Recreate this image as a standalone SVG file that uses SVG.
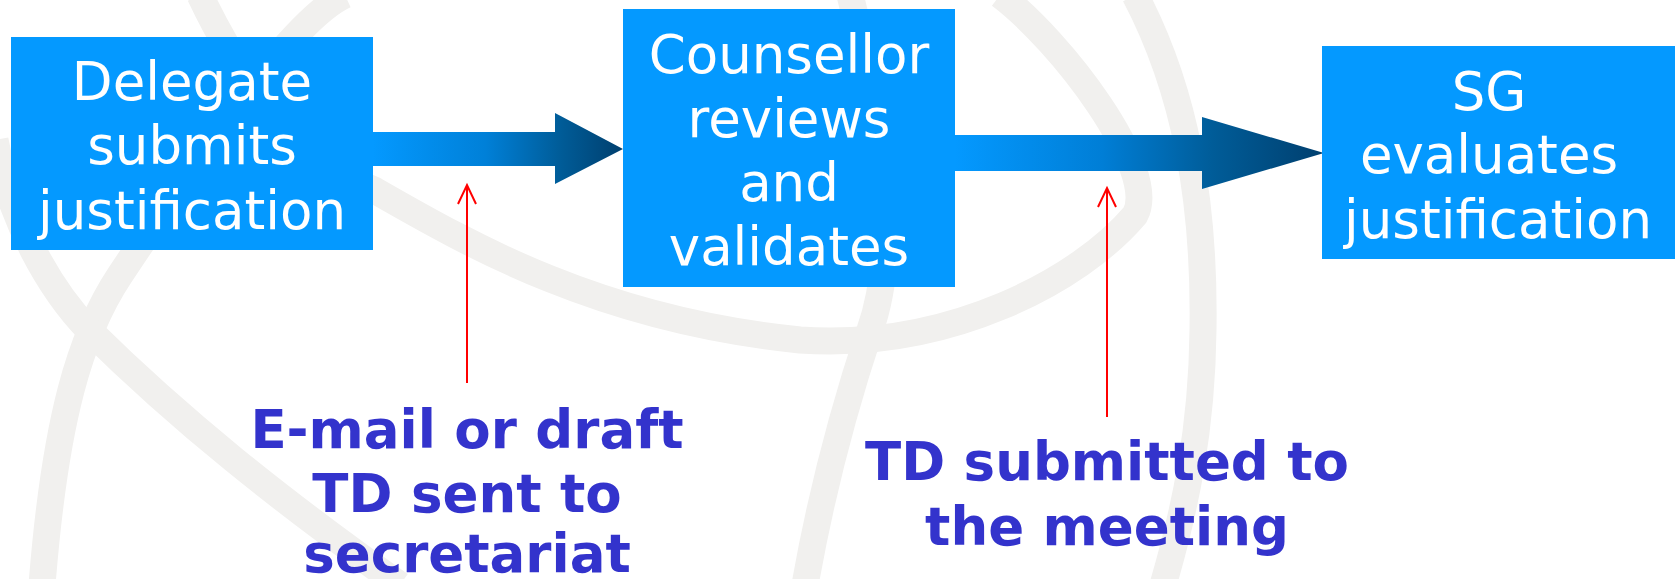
<svg xmlns="http://www.w3.org/2000/svg" width="1678" height="579" viewBox="0 0 1678 579">
<style>
  .bg { fill: none; stroke: #F1F0EE; stroke-width: 27; stroke-linecap: butt; }
  .box { fill: #0499FF; }
  .btxt { font-family: "DejaVu Sans", Verdana, sans-serif; font-size: 53px; fill: #FFFFFF; text-anchor: middle; }
  .ltxt { font-family: "DejaVu Sans", Verdana, sans-serif; font-weight: bold; font-size: 53px; fill: #3333CC; text-anchor: middle; }
  .red { stroke: #FF0000; stroke-width: 2; fill: none; }
</style>
<defs>
  <linearGradient id="g1" gradientUnits="userSpaceOnUse" x1="373" y1="0" x2="623" y2="0">
    <stop offset="0" stop-color="#0499FF"/>
    <stop offset="0.45" stop-color="#0080D8"/>
    <stop offset="0.75" stop-color="#005C98"/>
    <stop offset="1" stop-color="#003F6E"/>
  </linearGradient>
  <linearGradient id="g2" gradientUnits="userSpaceOnUse" x1="955" y1="0" x2="1324" y2="0">
    <stop offset="0" stop-color="#0499FF"/>
    <stop offset="0.4" stop-color="#007ED6"/>
    <stop offset="0.7" stop-color="#005C98"/>
    <stop offset="1" stop-color="#003F6E"/>
  </linearGradient>
  <marker id="open" markerUnits="userSpaceOnUse" markerWidth="24" markerHeight="24" viewBox="-20 -12 24 24" refX="0" refY="0" orient="auto">
    <path d="M-19,-9 L0,0 L-19,9" fill="none" stroke="#FF0000" stroke-width="2"/>
  </marker>
</defs>
<rect width="1678" height="579" fill="#FFFFFF"/>
<g id="background">
  <path class="bg" d="M345,-5 C290,20 190,170 120,275 C80,335 55,420 42,585"/>
  <path class="bg" d="M-5,140 C10,220 50,290 89,330 C180,420 280,500 400,585"/>
  <path class="bg" d="M200,-5 C240,80 300,160 374,190 C470,245 600,320 800,340 C950,350 1080,280 1135,215 C1160,170 1060,40 1000,-5"/>
  <path class="bg" d="M850,-5 C890,150 895,260 870,330 C840,420 820,500 805,585"/>
  <path class="bg" d="M1135,-5 C1185,90 1205,200 1203,330 C1202,430 1185,510 1163,585"/>
</g>
<g id="connectors">
  <polygon points="373,132 555,132 555,113 623,149 555,184 555,166 373,166" fill="url(#g1)"/>
  <polygon points="955,135 1202,135 1202,117 1324,153 1202,189 1202,171 955,171" fill="url(#g2)"/>
  <line class="red" x1="467" y1="383" x2="467" y2="185" marker-end="url(#open)"/>
  <line class="red" x1="1107" y1="417" x2="1107" y2="188" marker-end="url(#open)"/>
</g>
<g id="node-delegate">
  <rect class="box" x="11" y="37" width="362" height="213"/>
  <text class="btxt" x="192" y="100">Delegate</text>
  <text class="btxt" x="192" y="164">submits</text>
  <text class="btxt" x="192" y="229">justification</text>
</g>
<g id="node-counsellor">
  <rect class="box" x="623" y="9" width="332" height="278"/>
  <text class="btxt" x="789" y="73">Counsellor</text>
  <text class="btxt" x="789" y="137">reviews</text>
  <text class="btxt" x="789" y="201">and</text>
  <text class="btxt" x="789" y="265">validates</text>
</g>
<g id="node-sg">
  <rect class="box" x="1322" y="46" width="353" height="213"/>
  <text class="btxt" x="1489" y="110">SG</text>
  <text class="btxt" x="1489" y="173">evaluates</text>
  <text class="btxt" x="1498" y="238">justification</text>
</g>
<g id="label-email">
  <text class="ltxt" x="467" y="448">E-mail or draft</text>
  <text class="ltxt" x="467" y="512">TD sent to</text>
  <text class="ltxt" x="467" y="572">secretariat</text>
</g>
<g id="label-td">
  <text class="ltxt" x="1107" y="480">TD submitted to</text>
  <text class="ltxt" x="1107" y="545">the meeting</text>
</g>
</svg>
